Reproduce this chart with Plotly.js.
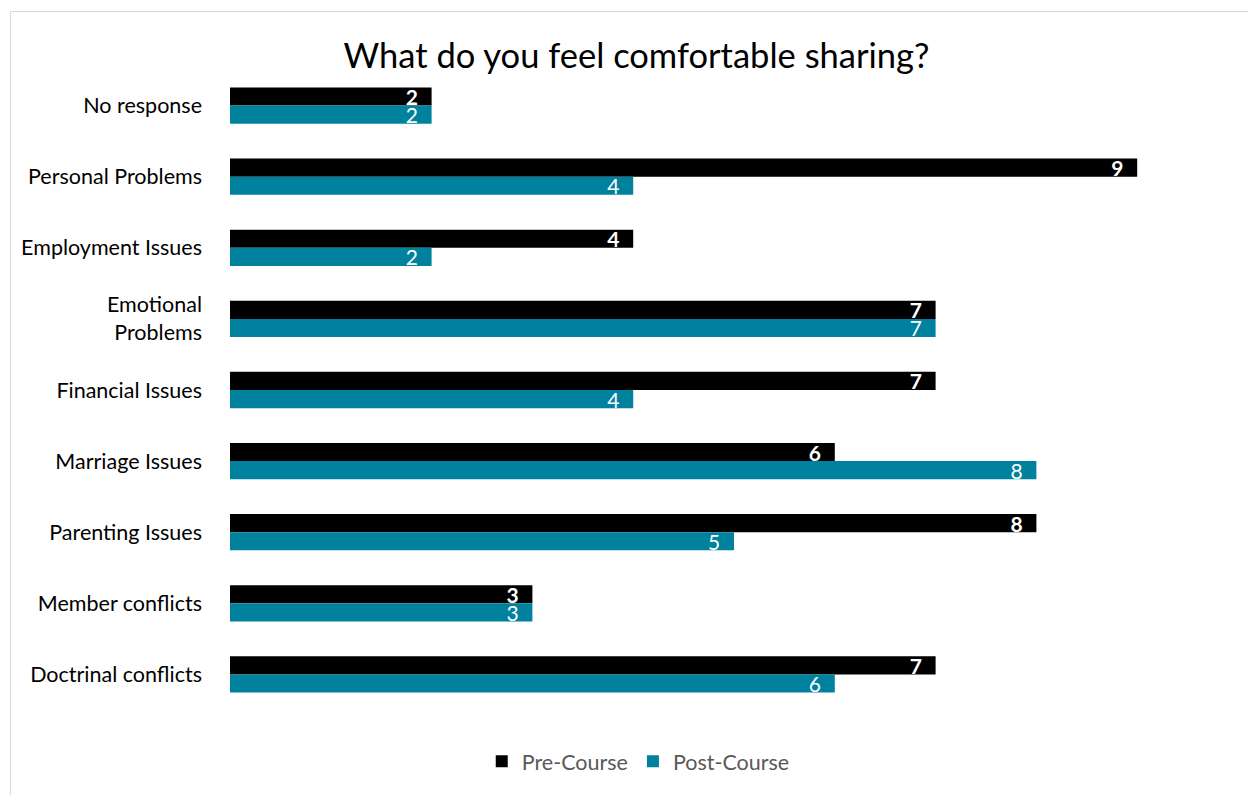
<!DOCTYPE html>
<html>
<head>
<meta charset="utf-8">
<script src="https://cdn.plot.ly/plotly-3.0.1.min.js"></script>
<style>
  html, body { margin: 0; padding: 0; background: #fff; }
  #wrap { position: relative; width: 1248px; height: 795px; overflow: hidden; }
  #frame { position: absolute; left: 10px; top: 11px; width: 1260px; height: 820px; border: 1px solid #d9d9d9; box-sizing: border-box; pointer-events: none; }
  #chart { position: absolute; left: 0; top: 0; width: 1248px; height: 795px; }
</style>
</head>
<body>
<div id="wrap">
  <div id="chart"></div>
  <div id="frame"></div>
</div>
<script>
const categories = ["No response", "Personal Problems", "Employment Issues", "Emotional<br>Problems", "Financial Issues", "Marriage Issues", "Parenting Issues", "Member conflicts", "Doctrinal conflicts"];
const preCourse = [2, 9, 4, 7, 7, 6, 8, 3, 7];
const postCourse = [2, 4, 2, 7, 4, 8, 5, 3, 6];
const seriesNames = ["Pre-Course", "Post-Course"];
const chartTitle = "What do you feel comfortable sharing?";

const FONT = "Lato, 'Open Sans', sans-serif";
const pad = "\u00a0\u00a0";

const traces = [
  {
    type: "bar", orientation: "h", name: seriesNames[0],
    y: categories, x: preCourse,
    marker: { color: "#000000" },
    text: preCourse.map(v => "<b>" + v + "</b>" + pad),
    textposition: "inside", insidetextanchor: "end", constraintext: "none", textangle: 0,
    textfont: { color: "#ffffff", size: 21, family: FONT },
    hoverinfo: "x+y"
  },
  {
    type: "bar", orientation: "h", name: seriesNames[1],
    y: categories, x: postCourse,
    marker: { color: "#00829F" },
    text: postCourse.map(v => v + pad),
    textposition: "inside", insidetextanchor: "end", constraintext: "none", textangle: 0,
    textfont: { color: "#ffffff", size: 21, family: FONT },
    hoverinfo: "x+y"
  }
];

const layout = {
  width: 1248, height: 795,
  margin: { l: 230, r: 10, t: 70, b: 85, autoexpand: false },
  paper_bgcolor: "#ffffff", plot_bgcolor: "#ffffff",
  font: { family: FONT, color: "#000000" },
  title: { text: chartTitle, font: { size: 34.5, family: FONT, color: "#000000" }, x: 0.51, xanchor: "center", y: 0.93, yanchor: "middle" },
  barmode: "group", bargap: 0.49, bargroupgap: 0,
  xaxis: { range: [0, 10], visible: false, showgrid: false, zeroline: false, fixedrange: true },
  yaxis: {
    autorange: "reversed", type: "category",
    showline: false, showgrid: false, zeroline: false, ticks: "",
    ticklabelstandoff: 27,
    tickfont: { size: 21.5, family: FONT, color: "#000000" },
    automargin: false
  },
  showlegend: true,
  legend: {
    orientation: "h", x: 0.405, xanchor: "center", y: -0.08, yanchor: "middle",
    font: { size: 21.5, family: FONT, color: "#595959" },
    itemwidth: 30, traceorder: "normal"
  }
};

Plotly.newPlot("chart", traces, layout, { displayModeBar: false, staticPlot: true });
</script>
</body>
</html>
